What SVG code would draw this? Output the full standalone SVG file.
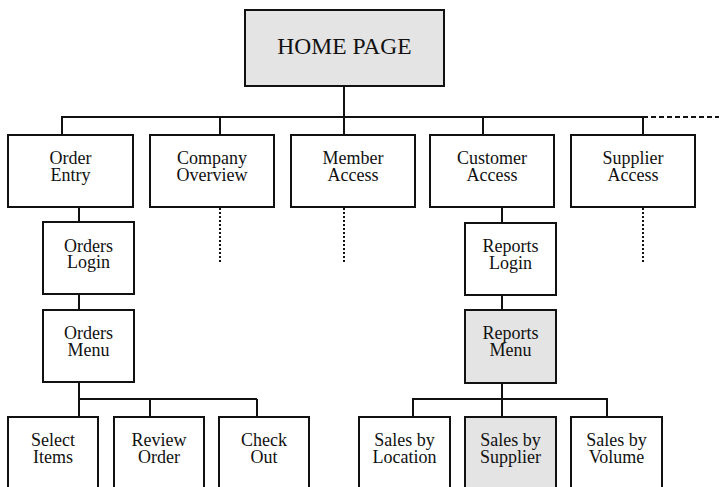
<svg xmlns="http://www.w3.org/2000/svg" width="719" height="487" viewBox="0 0 719 487">
<style>
.box{fill:#ffffff;stroke:#111111;stroke-width:2}
.hl{fill:#e4e4e4}
.c{fill:none;stroke:#111111;stroke-width:2}
.dash{stroke-dasharray:5 3}
.dot{stroke-dasharray:2 2}
text{font-family:"Liberation Serif","Times New Roman",serif;font-size:18px;fill:#111111;text-anchor:middle}
.big{font-size:23.5px}
</style>
<rect width="719" height="487" fill="#ffffff"/>
<g id="connectors">
<path class="c" d="M344 86V135M62 135V117H643V135M220 117V135M483 117V135"/>
<path class="c dash" d="M643 117H719"/>
<path class="c dot" d="M220 208V262M344 208V262M643 208V262"/>
<path class="c" d="M79 207V222M79 294V310M79 382V399M79 399V417M150 399V417M257 399V417M79 399H257"/>
<path class="c" d="M502 207V223M502 295V310M502 383V399M413 417V399H607V417M502 399V417"/>
</g>
<g id="home"><rect class="box hl" x="245" y="10" width="199" height="76"/><text class="big" x="344.5" y="53.5">HOME PAGE</text></g>
<g id="order-entry"><rect class="box" x="8" y="135" width="125" height="72"/><text x="70.5" y="164.3">Order</text><text x="70.5" y="180.7">Entry</text></g>
<g id="company-overview"><rect class="box" x="150" y="135" width="124" height="72"/><text x="212" y="164.3">Company</text><text x="212" y="180.7">Overview</text></g>
<g id="member-access"><rect class="box" x="291" y="135" width="124" height="72"/><text x="353" y="164.3">Member</text><text x="353" y="180.7">Access</text></g>
<g id="customer-access"><rect class="box" x="430" y="135" width="124" height="72"/><text x="492" y="164.3">Customer</text><text x="492" y="180.7">Access</text></g>
<g id="supplier-access"><rect class="box" x="571" y="135" width="124" height="72"/><text x="633" y="164.3">Supplier</text><text x="633" y="180.7">Access</text></g>
<g id="orders-login"><rect class="box" x="43" y="222" width="91" height="72"/><text x="88.5" y="251.7">Orders</text><text x="88.5" y="268">Login</text></g>
<g id="orders-menu"><rect class="box" x="43" y="310" width="91" height="72"/><text x="88.5" y="339.3">Orders</text><text x="88.5" y="356">Menu</text></g>
<g id="select-items"><rect class="box" x="8" y="417" width="90" height="80"/><text x="53" y="446">Select</text><text x="53" y="463">Items</text></g>
<g id="review-order"><rect class="box" x="114" y="417" width="90" height="80"/><text x="159" y="446">Review</text><text x="159" y="463">Order</text></g>
<g id="check-out"><rect class="box" x="219" y="417" width="90" height="80"/><text x="264" y="446">Check</text><text x="264" y="463">Out</text></g>
<g id="reports-login"><rect class="box" x="465" y="223" width="91" height="72"/><text x="510.5" y="252">Reports</text><text x="510.5" y="268.5">Login</text></g>
<g id="reports-menu"><rect class="box hl" x="465" y="310" width="91" height="73"/><text x="510.5" y="339.3">Reports</text><text x="510.5" y="356">Menu</text></g>
<g id="sales-location"><rect class="box" x="359" y="417" width="91" height="80"/><text x="404.5" y="446">Sales by</text><text x="404.5" y="463">Location</text></g>
<g id="sales-supplier"><rect class="box hl" x="465" y="417" width="91" height="80"/><text x="510.5" y="446">Sales by</text><text x="510.5" y="463">Supplier</text></g>
<g id="sales-volume"><rect class="box" x="571" y="417" width="91" height="80"/><text x="616.5" y="446">Sales by</text><text x="616.5" y="463">Volume</text></g>
</svg>
